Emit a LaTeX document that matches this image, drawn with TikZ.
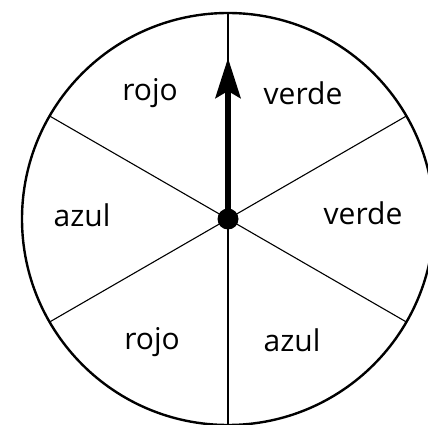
\documentclass[tikz,border=0pt]{standalone}
\usepackage{fontspec}
\setmainfont{Open Sans}
\usepackage{tikz}
\usetikzlibrary{arrows.meta}

\begin{document}
\begin{tikzpicture}[
    x=1pt, y=1pt,
    rim/.style={line width=2.4pt},
    spoke/.style={line width=1.1pt},
    sector/.style={font=\fontsize{30}{33}\selectfont, inner sep=0pt},
    pointer/.style={line width=6pt, -{Stealth[length=40pt, width=25pt, inset=7pt]}}
]
    % marco
    \useasboundingbox (-228,-206) rectangle (200,219);

    % ruleta
    \def\R{206}
    \draw[rim] (0,0) circle (\R);
    \coordinate (hub) at (0,0);
    \foreach \a in {30,90,...,330}
        \draw[spoke] (hub) -- (\a:\R);

    % sectores
    \node[sector] (rojoA)  at (-78,126)  {rojo};
    \node[sector] (verdeA) at (75,126)   {verde};
    \node[sector] (azulA)  at (-146,4)   {azul};
    \node[sector] (verdeB) at (135,6)    {verde};
    \node[sector] (rojoB)  at (-76,-123) {rojo};
    \node[sector] (azulB)  at (64,-121)  {azul};

    % aguja
    \coordinate (tip) at (0,161);
    \draw[pointer] (hub) -- (tip);
    \fill (hub) circle (10.5);
\end{tikzpicture}
\end{document}
